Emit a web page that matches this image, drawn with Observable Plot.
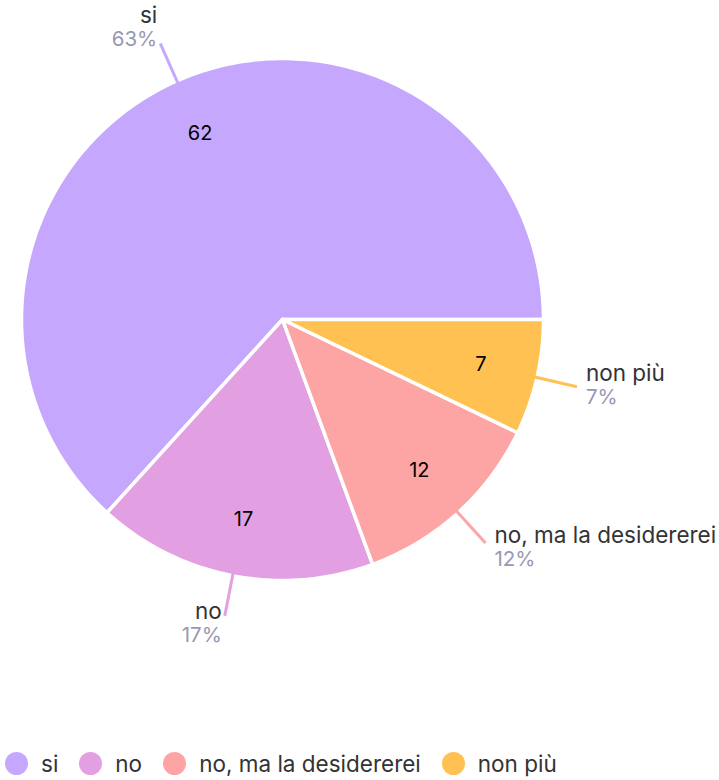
<!DOCTYPE html>
<html><head><meta charset="utf-8">
<script src="https://cdn.jsdelivr.net/npm/d3@7"></script>
<script src="https://cdn.jsdelivr.net/npm/@observablehq/plot@0.6"></script>
<style>
body{margin:0;background:#fff;font-family:Inter,sans-serif;}
#legend{display:flex;align-items:center;height:28px;padding-left:5px;font-size:22.5px;color:#333;}
.item{display:flex;align-items:center;margin-right:21px;}
.sw{width:23px;height:23px;border-radius:50%;margin-right:13px;}
</style></head><body><div id="chart"></div><div id="legend"></div>
<script>
const categories = ["si", "no", "no, ma la desidererei", "non più"];
const values = [62, 17, 12, 7];
const colors = ["#c5a8fe", "#e2a0e3", "#fda5a5", "#ffc152"];

const total = d3.sum(values);
const rad = d => d * Math.PI / 180;
const k = 1 / 261; // px -> unit
let start = 90;
const slices = [];
const labels = [];
categories.forEach((key, i) => {
  const a0 = start, a1 = start - values[i] / total * 360;
  start = a1;
  slices.push({key, x: 0, y: 0});
  const n = Math.max(2, Math.ceil(Math.abs(a0 - a1)));
  for (let j = 0; j <= n; j++) {
    const a = rad(a0 + (a1 - a0) * j / n);
    slices.push({key, x: Math.sin(a), y: Math.cos(a)});
  }
  slices.push({key, x: 0, y: 0});
  const m = rad((a0 + a1) / 2);
  const s = Math.sin(m), c = Math.cos(m);
  const ex = 1.157 * s, ey = 1.157 * c;
  const nameOff = -8.9 - 12.3 * c; // px downward
  labels.push({
    key, value: values[i], pct: Math.round(values[i] / total * 100) + "%",
    ix: 0.78 * s, iy: 0.78 * c,
    x1: 0.97 * s, y1: 0.97 * c, x2: ex, y2: ey,
    right: s > 0,
    ny: ey - nameOff * k, py: ey - (nameOff + 23) * k
  });
});
const R = labels.filter(d => d.right), L = labels.filter(d => !d.right);

const chart = Plot.plot({
  width: 719, height: 749, margin: 0,
  style: {fontFamily: "Inter, sans-serif", background: "#fff"},
  x: {domain: [-1, 1], range: [21, 543], axis: null},
  y: {domain: [-1, 1], range: [580, 58], axis: null},
  color: {domain: categories, range: colors},
  marks: [
    Plot.line(slices, {x: "x", y: "y", z: "key", fill: "key", stroke: "white", strokeWidth: 3.5, strokeLinejoin: "round"}),
    Plot.link(labels, {x1: "x1", y1: "y1", x2: "x2", y2: "y2", stroke: "key", strokeWidth: 3}),
    Plot.text(labels, {x: "ix", y: "iy", text: d => String(d.value), fontSize: 20, fill: "#000"}),
    Plot.text(R, {x: "x2", y: "ny", text: "key", textAnchor: "start", lineAnchor: "bottom", dx: 9, fontSize: 22.5, fill: "#333"}),
    Plot.text(R, {x: "x2", y: "py", text: "pct", textAnchor: "start", lineAnchor: "bottom", dx: 9, fontSize: 20.5, fill: "#9898b4"}),
    Plot.text(L, {x: "x2", y: "ny", text: "key", textAnchor: "end", lineAnchor: "bottom", dx: -3, fontSize: 22.5, fill: "#333"}),
    Plot.text(L, {x: "x2", y: "py", text: "pct", textAnchor: "end", lineAnchor: "bottom", dx: -3, fontSize: 20.5, fill: "#9898b4"})
  ]
});
document.getElementById("chart").appendChild(chart);

const leg = document.getElementById("legend");
categories.forEach((c, i) => {
  const it = document.createElement("div"); it.className = "item";
  const sw = document.createElement("span"); sw.className = "sw"; sw.style.background = colors[i];
  const t = document.createElement("span"); t.textContent = c;
  it.appendChild(sw); it.appendChild(t); leg.appendChild(it);
});
</script></body></html>
